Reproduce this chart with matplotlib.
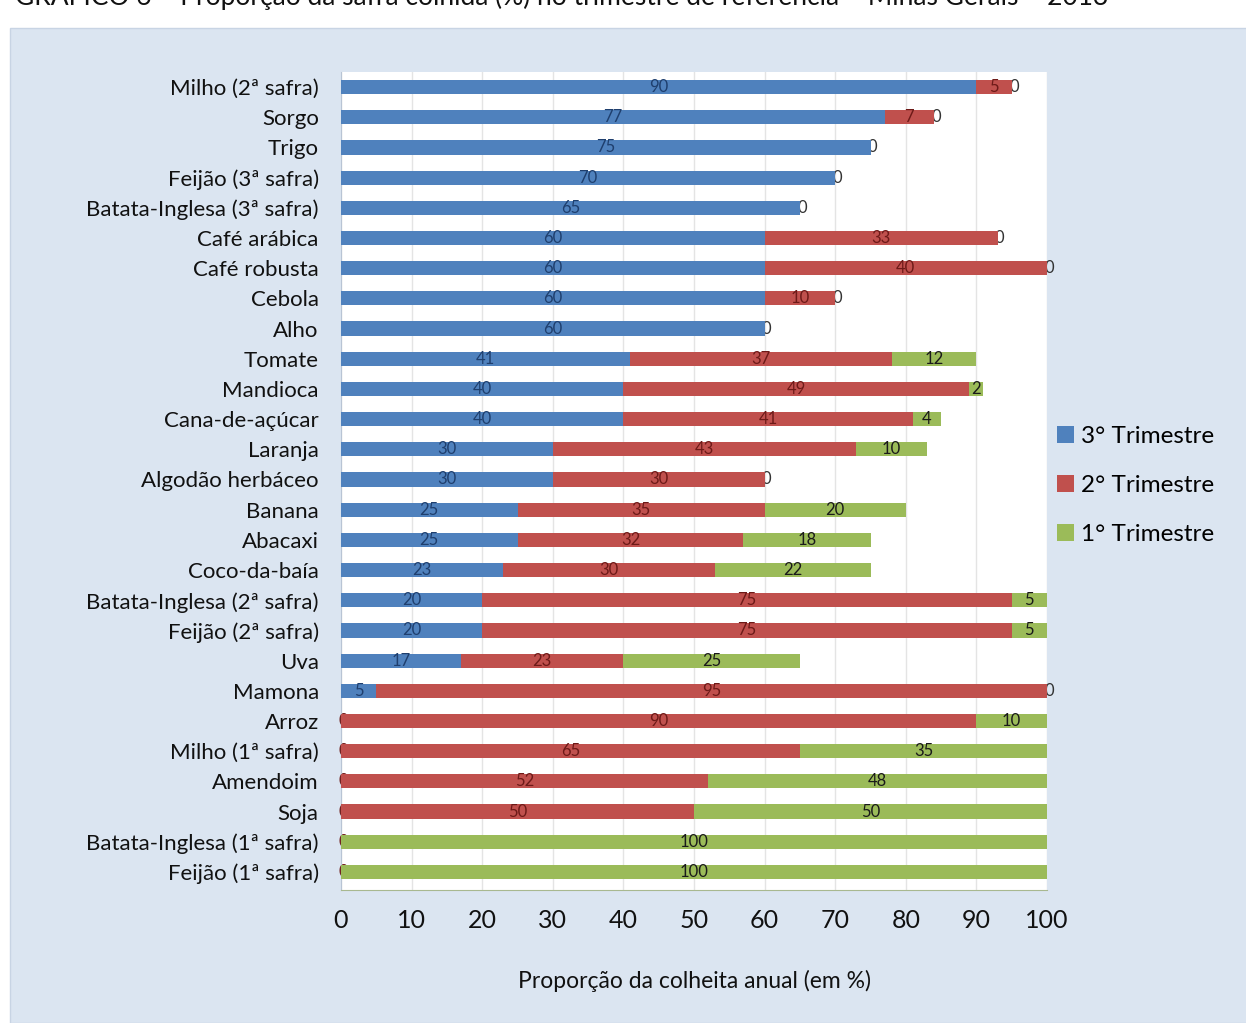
# Proporção da safra colhida por trimestre - barras horizontais empilhadas

import numpy as np
import matplotlib.pyplot as plt
from matplotlib.patches import Rectangle

plt.rcParams['font.family'] = ['Lato', 'DejaVu Sans']

# Dados
culturas = ["Milho (2ª safra)", "Sorgo", "Trigo", "Feijão (3ª safra)", "Batata-Inglesa (3ª safra)",
            "Café arábica", "Café robusta", "Cebola", "Alho", "Tomate", "Mandioca", "Cana-de-açúcar",
            "Laranja", "Algodão herbáceo", "Banana", "Abacaxi", "Coco-da-baía",
            "Batata-Inglesa (2ª safra)", "Feijão (2ª safra)", "Uva", "Mamona", "Arroz",
            "Milho (1ª safra)", "Amendoim", "Soja", "Batata-Inglesa (1ª safra)", "Feijão (1ª safra)"]
tri3 = [90, 77, 75, 70, 65, 60, 60, 60, 60, 41, 40, 40, 30, 30, 25, 25, 23, 20, 20, 17, 5, 0, 0, 0, 0, 0, 0]
tri2 = [5, 7, 0, 0, 0, 33, 40, 10, 0, 37, 49, 41, 43, 30, 35, 32, 30, 75, 75, 23, 95, 90, 65, 52, 50, 0, 0]
tri1 = [0, 0, 0, 0, 0, 0, 0, 0, 0, 12, 2, 4, 10, 0, 20, 18, 22, 5, 5, 25, 0, 10, 35, 48, 50, 100, 100]

titulo = "GRÁFICO 6 – Proporção da safra colhida (%) no trimestre de referência – Minas Gerais – 2013"

azul, vermelho, verde = "#4f81bd", "#c0504d", "#9bbb59"

fig = plt.figure(figsize=(12.46, 10.23), dpi=100)
fig.patch.set_facecolor("white")

# Painel azul claro de fundo
fig.patches.append(Rectangle((10 / 1246, 0), 1, 1 - 28 / 1023, transform=fig.transFigure,
                             facecolor="#dbe5f1", edgecolor="#c8d4e4", lw=1, zorder=-10))
fig.text(15 / 1246, 1 - 5 / 1023, titulo, fontsize=19, va="baseline", ha="left", color="#111111")

ax = fig.add_axes([341 / 1246, 1 - 890 / 1023, 706 / 1246, 818 / 1023])
ax.set_facecolor("white")

y = np.arange(len(culturas))
t3 = np.array(tri3)
t2 = np.array(tri2)
t1 = np.array(tri1)
h = 0.47
ax.barh(y, t3, height=h, color=azul, label="3° Trimestre", zorder=3)
ax.barh(y, t2, left=t3, height=h, color=vermelho, label="2° Trimestre", zorder=3)
ax.barh(y, t1, left=t3 + t2, height=h, color=verde, label="1° Trimestre", zorder=3)

# Rótulos de dados
for i in range(len(culturas)):
    segs = [(t3[i], 0, "#1f3f6e"), (t2[i], t3[i], "#6e1a18"), (t1[i], t3[i] + t2[i], "#1a1a1a")]
    for k, (v, left, c) in enumerate(segs):
        if v > 0:
            ax.text(left + v / 2, i, str(v), ha="center", va="center", fontsize=12, color=c, zorder=4)
        elif k == 2:
            ax.text(left + 0.3, i, "0", ha="center", va="center", fontsize=12, color="#333333", zorder=2)
        elif k == 0:
            ax.text(0.3, i, "0", ha="center", va="center", fontsize=12, color="#6e1a18", zorder=2)

ax.set_xlim(0, 100)
ax.set_ylim(len(culturas) - 0.4, -0.5)
ax.set_xticks(np.arange(0, 101, 10))
ax.set_yticks(y)
ax.set_yticklabels(culturas, fontsize=16, color="#111111")
ax.tick_params(axis="y", length=0, pad=16)
ax.tick_params(axis="x", length=0, pad=14, labelsize=18, labelcolor="#111111")
ax.xaxis.grid(True, color="#e4e4e4", lw=1, zorder=0)
for s in ["top", "right"]:
    ax.spines[s].set_visible(False)
ax.spines["left"].set_color("#b8c4d4")
ax.spines["bottom"].set_color("#a8b890")

ax.set_xlabel("Proporção da colheita anual (em %)", fontsize=16.5, labelpad=27, color="#111111")

ax.legend(loc="center left", bbox_to_anchor=(1.0, 0.494), frameon=False, fontsize=17.5,
          handlelength=0.7, handleheight=0.7, handletextpad=0.3, labelspacing=1.15,
          borderaxespad=0.0)

fig.savefig("out.png", dpi=100)
